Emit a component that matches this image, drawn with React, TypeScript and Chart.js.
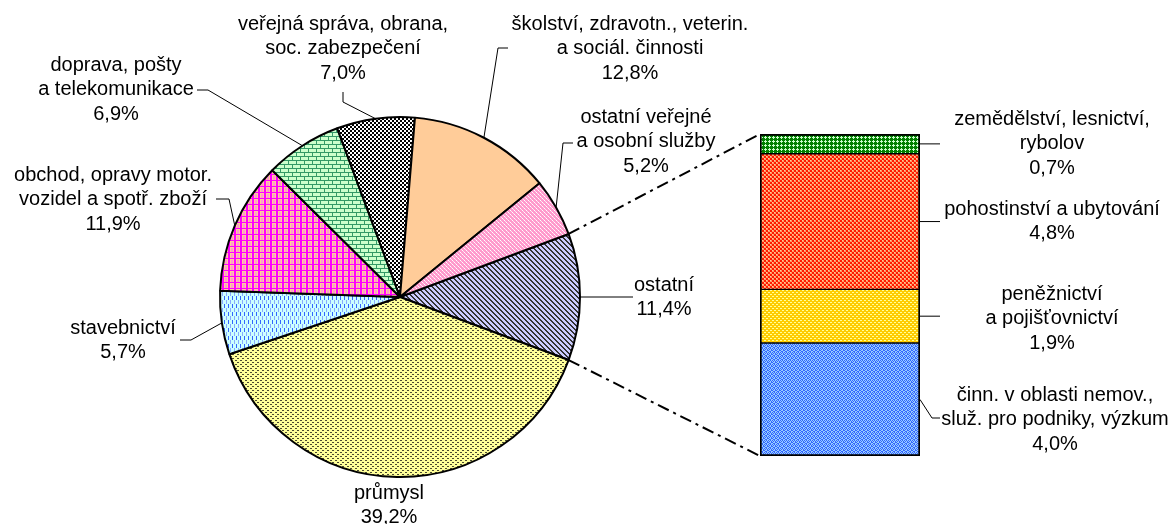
import React, { useEffect, useRef } from 'react';
import { Chart, registerables } from 'chart.js';

Chart.register(...registerables);

// ---- data ----
const pieCategories = [
  'ostatní',
  'průmysl',
  'stavebnictví',
  'obchod, opravy motor.\nvozidel a spotř. zboží',
  'doprava, pošty\na telekomunikace',
  'veřejná správa, obrana,\nsoc. zabezpečení',
  'školství, zdravotn., veterin.\na sociál. činnosti',
  'ostatní veřejné\na osobní služby',
];
const pieValues = [11.4, 39.2, 5.7, 11.9, 6.9, 7.0, 12.8, 5.2];

// bottom to top
const barCategories = [
  'činn. v oblasti nemov.,\nsluž. pro podniky, výzkum',
  'peněžnictví\na pojišťovnictví',
  'pohostinství a ubytování',
  'zemědělství, lesnictví,\nrybolov',
];
const barValues = [4.0, 1.9, 4.8, 0.7];

// ---- layout / style ----
const W = 1171;
const H = 524;
const FONT = '20px "Liberation Sans", Arial, sans-serif';
const LINE = 24.6;

type LabelPos = { cx: number; y0: number; anchor?: [number, number]; elbow?: [number, number] };

const pieLabelPos: LabelPos[] = [
  { cx: 664, y0: 285, anchor: [633, 297] },
  { cx: 389, y0: 493 },
  { cx: 123, y0: 328, anchor: [180, 340], elbow: [191, 340] },
  { cx: 113, y0: 175, anchor: [216, 199], elbow: [229, 199] },
  { cx: 116, y0: 65, anchor: [197, 90], elbow: [208, 90] },
  { cx: 343, y0: 24, anchor: [343, 92], elbow: [343, 102] },
  { cx: 630, y0: 24, anchor: [508, 48], elbow: [498, 48] },
  { cx: 646, y0: 117, anchor: [573, 143], elbow: [563, 143] },
];

const barLabelPos: LabelPos[] = [
  { cx: 1055, y0: 395, anchor: [940, 418], elbow: [932, 418] },
  { cx: 1052, y0: 294, anchor: [940, 0] },
  { cx: 1052, y0: 209, anchor: [940, 0] },
  { cx: 1052, y0: 119, anchor: [940, 0] },
];

const fmt = (v: number) => v.toFixed(1).replace('.', ',') + '%';

type R = [number, number, number, number, string];
function makePattern(w: number, h: number, bg: string, rects: R[]): CanvasPattern | string {
  const c = document.createElement('canvas');
  c.width = w;
  c.height = h;
  const x = c.getContext('2d');
  if (!x) return bg;
  x.fillStyle = bg;
  x.fillRect(0, 0, w, h);
  rects.forEach(([a, b, cw, ch, col]) => {
    x.fillStyle = col;
    x.fillRect(a, b, cw, ch);
  });
  return x.createPattern(c, 'repeat') || bg;
}

function diag(size: number, bg: string, fg: string) {
  const rects: R[] = [];
  for (let i = 0; i < size; i++) {
    rects.push([i, i, 1, 1, fg]);
    rects.push([(i + 1) % size, i, 1, 1, fg]);
  }
  return makePattern(size, size, bg, rects);
}

function buildPiePatterns() {
  return [
    // ostatní – lavender with dark diagonal stripes
    diag(5, '#CCCCFF', '#333333'),
    // průmysl – light yellow with small dark dots
    makePattern(5, 4, '#FFFF99', [
      [0, 0, 2, 1, '#4A4A30'],
      [2, 2, 2, 1, '#4A4A30'],
    ]),
    // stavebnictví – light cyan with blue dashes
    makePattern(4, 8, '#CCFFFF', [
      [0, 0, 1, 4, '#3366FF'],
      [2, 4, 1, 4, '#88AAFF'],
    ]),
    // obchod – magenta grid over peach/pink
    makePattern(6, 6, '#FFCC99', [
      [3, 2, 2, 4, '#FF99CC'],
      [0, 0, 2, 6, '#FF00FF'],
      [0, 0, 6, 1, '#FF00FF'],
    ]),
    // doprava – light green brick
    makePattern(8, 8, '#CCFFCC', [
      [0, 0, 8, 1, '#339966'],
      [0, 4, 8, 1, '#339966'],
      [0, 1, 1, 3, '#339966'],
      [4, 5, 1, 3, '#339966'],
    ]),
    // veřejná správa – black / white checker
    makePattern(4, 4, '#FFFFFF', [
      [0, 0, 2, 2, '#000000'],
      [2, 2, 2, 2, '#000000'],
    ]),
    // školství – peach
    '#FFCC99',
    // ostatní veřejné – pink with white speckle
    makePattern(4, 4, '#FF99CC', [
      [0, 0, 1, 1, '#FFFFFF'],
      [2, 2, 1, 1, '#FFFFFF'],
      [1, 1, 1, 1, '#FFE0F0'],
      [3, 3, 1, 1, '#FFE0F0'],
    ]),
  ];
}

function buildBarPatterns() {
  return [
    // činn. – blue pattern
    makePattern(4, 4, '#99CCFF', [
      [0, 0, 1, 1, '#3366FF'],
      [2, 0, 1, 1, '#3366FF'],
      [1, 1, 1, 1, '#3366FF'],
      [3, 1, 1, 1, '#3366FF'],
      [0, 2, 1, 1, '#3366FF'],
      [3, 2, 1, 1, '#3366FF'],
      [1, 3, 1, 1, '#3366FF'],
      [2, 3, 1, 1, '#3366FF'],
    ]),
    // peněžnictví – gold with light dots
    makePattern(4, 4, '#FFCC00', [
      [0, 0, 2, 1, '#FFFF99'],
      [2, 2, 2, 1, '#FFFF99'],
    ]),
    // pohostinství – red / peach
    makePattern(4, 4, '#FF9966', [
      [0, 0, 2, 2, '#FF1A00'],
      [2, 2, 2, 2, '#FF1A00'],
      [2, 0, 1, 1, '#FFCC99'],
      [0, 2, 1, 1, '#FFCC99'],
    ]),
    // zemědělství – dark green with light green diamonds
    makePattern(4, 4, '#008000', [
      [1, 0, 1, 1, '#CCFFCC'],
      [0, 1, 3, 1, '#CCFFCC'],
      [1, 2, 1, 1, '#CCFFCC'],
    ]),
  ];
}

function drawLeader(ctx: CanvasRenderingContext2D, pts: [number, number][]) {
  ctx.beginPath();
  ctx.moveTo(pts[0][0], pts[0][1]);
  for (let i = 1; i < pts.length; i++) ctx.lineTo(pts[i][0], pts[i][1]);
  ctx.stroke();
}

function drawText(ctx: CanvasRenderingContext2D, lines: string[], cx: number, y0: number) {
  lines.forEach((t, k) => ctx.fillText(t, cx, y0 + k * LINE));
}

export default function App() {
  const pieCanvas = useRef<HTMLCanvasElement | null>(null);
  const barCanvas = useRef<HTMLCanvasElement | null>(null);

  useEffect(() => {
    if (!pieCanvas.current || !barCanvas.current) return;
    const total = pieValues.reduce((a, b) => a + b, 0);
    const rotation = 90 - ((pieValues[0] / total) * 360) / 2;

    const pieLabelsPlugin = {
      id: 'pieLabels',
      afterDraw(chart: any) {
        const ctx: CanvasRenderingContext2D = chart.ctx;
        const meta = chart.getDatasetMeta(0);
        ctx.save();
        ctx.font = FONT;
        ctx.fillStyle = '#000';
        ctx.strokeStyle = '#000';
        ctx.lineWidth = 1;
        ctx.textAlign = 'center';
        ctx.textBaseline = 'middle';
        meta.data.forEach((arc: any, i: number) => {
          const L = pieLabelPos[i];
          const p = arc.getProps(['x', 'y', 'startAngle', 'endAngle', 'outerRadius'], true);
          const mid = (p.startAngle + p.endAngle) / 2;
          const px = p.x + Math.cos(mid) * p.outerRadius;
          const py = p.y + Math.sin(mid) * p.outerRadius;
          if (L.anchor) {
            const pts: [number, number][] = [L.anchor];
            if (L.elbow) pts.push(L.elbow);
            pts.push([px, py]);
            drawLeader(ctx, pts);
          }
          const lines = [...pieCategories[i].split('\n'), fmt(pieValues[i])];
          drawText(ctx, lines, L.cx, L.y0);
        });
        ctx.restore();
      },
    };

    const pie = new Chart(pieCanvas.current, {
      type: 'pie',
      data: {
        labels: pieCategories,
        datasets: [
          {
            data: pieValues,
            backgroundColor: buildPiePatterns() as any,
            borderColor: '#000000',
            borderWidth: 2,
          },
        ],
      },
      options: {
        responsive: false,
        animation: false,
        rotation,
        radius: 180,
        layout: { padding: { left: 219, right: W - 581, top: 116, bottom: H - 478 } },
        plugins: { legend: { display: false }, tooltip: { enabled: false } },
      } as any,
      plugins: [pieLabelsPlugin],
    });

    const barPlugin = {
      id: 'barDeco',
      afterDraw(chart: any) {
        const ctx: CanvasRenderingContext2D = chart.ctx;
        const n = barValues.length;
        const topBar = chart.getDatasetMeta(n - 1).data[0];
        const botBar = chart.getDatasetMeta(0).data[0];
        const tp = topBar.getProps(['x', 'y', 'width'], true);
        const bp = botBar.getProps(['base'], true);
        const left = tp.x - tp.width / 2;
        const right = tp.x + tp.width / 2;

        // connectors from the pie slice to the bar
        const arc = pie.getDatasetMeta(0).data[0] as any;
        const a = arc.getProps(['x', 'y', 'startAngle', 'endAngle', 'outerRadius'], true);
        ctx.save();
        ctx.strokeStyle = '#000';
        ctx.lineWidth = 2;
        ctx.setLineDash([12, 5, 3, 5]);
        ctx.beginPath();
        ctx.moveTo(a.x + Math.cos(a.startAngle) * a.outerRadius, a.y + Math.sin(a.startAngle) * a.outerRadius);
        ctx.lineTo(left, tp.y);
        ctx.moveTo(a.x + Math.cos(a.endAngle) * a.outerRadius, a.y + Math.sin(a.endAngle) * a.outerRadius);
        ctx.lineTo(left, bp.base);
        ctx.stroke();
        ctx.restore();

        // labels
        ctx.save();
        ctx.font = FONT;
        ctx.fillStyle = '#000';
        ctx.strokeStyle = '#000';
        ctx.lineWidth = 1;
        ctx.textAlign = 'center';
        ctx.textBaseline = 'middle';
        for (let i = 0; i < n; i++) {
          const el = chart.getDatasetMeta(i).data[0];
          const e = el.getProps(['y', 'base'], true);
          const midY = (e.y + e.base) / 2;
          const L = barLabelPos[i];
          if (L.anchor) {
            if (L.elbow) {
              drawLeader(ctx, [[right, midY], L.elbow, L.anchor]);
            } else {
              drawLeader(ctx, [[right, midY], [L.anchor[0], midY]]);
            }
          }
          const lines = [...barCategories[i].split('\n'), fmt(barValues[i])];
          drawText(ctx, lines, L.cx, L.y0);
        }
        ctx.restore();
      },
    };

    const barPatterns = buildBarPatterns();
    const n = barValues.length;
    const bar = new Chart(barCanvas.current, {
      type: 'bar',
      data: {
        labels: [''],
        datasets: barValues.map((v, i) => ({
          label: barCategories[i],
          data: [v],
          backgroundColor: barPatterns[i] as any,
          borderColor: '#000000',
          borderWidth: { left: 2, right: 2, top: i === n - 1 ? 2 : 1, bottom: i === 0 ? 2 : 1 },
          borderSkipped: false,
          barPercentage: 1,
          categoryPercentage: 1,
        })),
      },
      options: {
        responsive: false,
        animation: false,
        layout: { padding: { left: 760, right: W - 920, top: 134, bottom: H - 456 } },
        scales: {
          x: { stacked: true, display: false },
          y: { stacked: true, display: false, min: 0, max: barValues.reduce((s, v) => s + v, 0) },
        },
        plugins: { legend: { display: false }, tooltip: { enabled: false } },
      } as any,
      plugins: [barPlugin],
    });

    return () => {
      bar.destroy();
      pie.destroy();
    };
  }, []);

  const cs: React.CSSProperties = { position: 'absolute', left: 0, top: 0, width: W, height: H };
  return (
    <div style={{ position: 'absolute', left: 0, top: 0, width: W, height: H, background: '#fff', overflow: 'hidden' }}>
      <canvas ref={pieCanvas} width={W} height={H} style={cs} />
      <canvas ref={barCanvas} width={W} height={H} style={cs} />
    </div>
  );
}
